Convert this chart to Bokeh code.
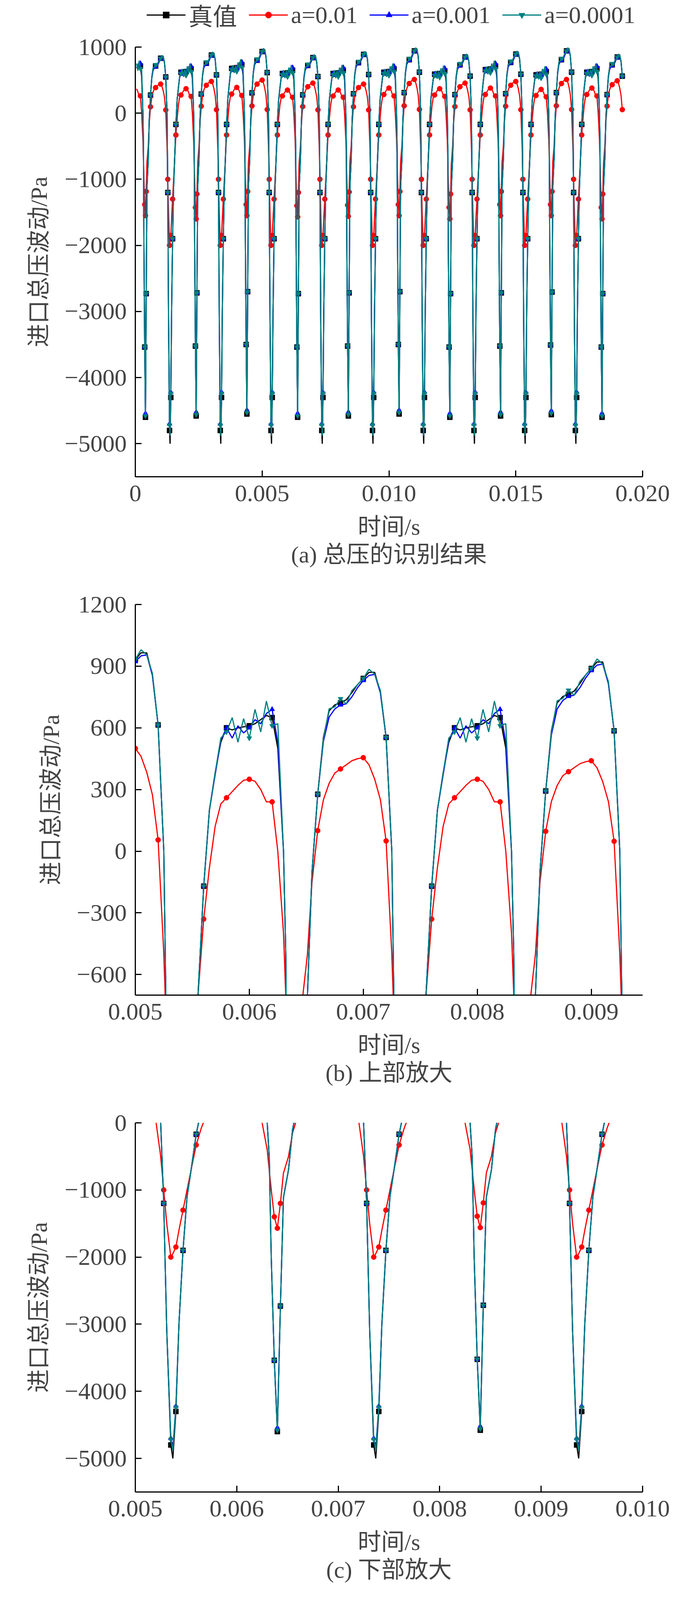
import numpy as np
from bokeh.plotting import figure
from bokeh.models import Legend, LegendItem, FixedTicker, Title, Range1d
from bokeh.layouts import column
from bokeh.embed import file_html
from bokeh.resources import INLINE

tmpl_t = [0.00500, 0.00505, 0.00510, 0.00515, 0.00520, 0.00525, 0.00528, 0.00531, 0.00535, 0.00537,
          0.00540, 0.00543, 0.00547, 0.00551, 0.00555, 0.00560, 0.00565, 0.00570, 0.00575, 0.00580,
          0.00585, 0.00590, 0.00595, 0.00600, 0.00605, 0.00610, 0.00615, 0.00620, 0.00625, 0.00630,
          0.00632, 0.00634, 0.00637, 0.00640, 0.00643, 0.00646, 0.00651, 0.00655, 0.00660, 0.00665,
          0.00670, 0.00675, 0.00680, 0.00685, 0.00690, 0.00695]
tmpl_true = [850, 880, 880, 780, 560, 0, -1200, -3100, -4800, -5000,
             -4300, -3000, -1900, -1100, -700, -170, 200, 380, 530, 600,
             590, 600, 605, 610, 620, 640, 660, 650, 500, 0,
             -500, -2000, -3500, -4550, -2700, -1100, -700, -100, 280, 560,
             690, 720, 730, 745, 780, 820]
tmpl_red = [455, 420, 350, 250, 50, -500, -1000, -1500, -2000, -1950,
            -1850, -1600, -1300, -1000, -700, -330, -80, 120, 230, 260,
            290, 320, 345, 350, 340, 300, 240, 240, 0, -400,
            -700, -1000, -1400, -1570, -1200, -750, -500, -150, 100, 250,
            330, 380, 400, 420, 440, 450]
tmpl_dblue = [-10, -15, -10, 0, 0, 0, 0, 0, 100, 150,
              80, 0, 0, 0, 0, 0, 0, -10, 10, 0,
              -40, 10, -30, -10, 20, -20, 10, 40, 30, 0,
              0, 0, 0, 60, 0, 0, 0, 0, 0, -20,
              -30, -20, -10, -20, -20, -15]
tmpl_dteal = [0, 15, -10, 10, 0, 0, 0, 0, 80, 120,
              60, 0, 0, 0, 0, 0, 0, 0, 20, -20,
              60, -70, 40, -60, 70, -60, 70, -40, 120, 0,
              0, 0, 0, 20, 0, 0, 0, 0, 0, -10,
              10, -10, 20, -20, 10, 0]

# ---- per double-cycle levels ----
cyc_high = [700, 860, 910, 965, 870, 920, 975, 880, 925, 975, 880]
cyc_low = [680, 640, 700, 620, 620, 640, 610, 680, 600, 640, 640]
cyc_deep = [-5000, -5000, -5000, -5000, -5000, -5000, -5000, -5000, -5000, -5000, -5000]
cyc_shallow = [-4600, -4580, -4550, -4600, -4580, -4550, -4600, -4580, -4560, -4600, -4600]
red_high = [450, 440, 480, 500, 455, 440, 510, 455, 480, 510, 490]
red_low = [380, 370, 390, 350, 350, 380, 370, 380, 360, 380, 380]
red_deep = [-2000, -2000, -2000, -2000, -2000, -2000, -2000, -2000, -2000, -2000, -2000]
red_shallow = [-1550, -1600, -1550, -1570, -1560, -1550, -1600, -1550, -1550, -1600, -1600]

series_names = ["真值", "a=0.01", "a=0.001", "a=0.0001"]
t_end = 0.0192

def build():
    T, Y, R, B, C, M = [], [], [], [], [], []
    for k in range(len(cyc_high)):
        s = -0.001 + 0.002 * k
        for i, tt in enumerate(tmpl_t):
            off = tt - 0.005
            t = s + off
            v, r = tmpl_true[i], tmpl_red[i]
            kh = k + 1 if off > 0.0015 and k + 1 < len(cyc_high) else k
            if off < 0.00025 or off > 0.0015:
                yv = v * cyc_high[kh] / 880 if v > 0 else v
                rv = r * red_high[kh] / 455 if r > 0 else r
            elif off < 0.00056:
                yv = v * cyc_deep[k] / -5000 if v < 0 else v
                rv = r * red_deep[k] / -2000 if r < 0 else r
            elif off < 0.00128:
                yv = v * cyc_low[k] / 620 if v > 0 else v
                rv = r * red_low[k] / 350 if r > 0 else r
            else:
                yv = v * cyc_shallow[k] / -4550 if v < 0 else v
                rv = r * red_shallow[k] / -1570 if r < 0 else r
            if t < 0.00002 or t > t_end:
                continue
            T.append(t); Y.append(yv); R.append(rv)
            B.append(yv + tmpl_dblue[i]); C.append(yv + tmpl_dteal[i])
            mk = (abs(round(off / 0.0002) * 0.0002 - off) < 1e-9) or (v < -1000 and i % 2 == 0)
            M.append(mk)
    return [np.array(a) for a in (T, Y, R, B, C, M)]

T, Y, R, B, C, M = build()

SERIF = "'Liberation Serif', 'Noto Sans CJK SC'"
FS = "62px"
STY = [("black", "square"), ("#ff0000", "circle"), ("#0000ff", "triangle"), ("#008080", "inverted_triangle")]

def make(xr, yr, xticks, xlabels, yticks, caption, mborder_top, fh, mborder_bottom):
    p = figure(output_backend="svg", toolbar_location=None, x_range=xr, y_range=yr,
               frame_width=1299, frame_height=fh, min_border_left=346, min_border_right=100,
               min_border_top=mborder_top, min_border_bottom=mborder_bottom)
    p.outline_line_color = None
    p.grid.visible = False
    p.background_fill_color = None
    for ys, (col, mark) in zip([Y, R, B, C], STY):
        p.line(T, ys, line_color=col, line_width=3)
        p.scatter(T[M], ys[M], marker=mark, size=13, fill_color=col, line_color=col)
    for ax, ticks, labels in [(p.xaxis[0], xticks, xlabels), (p.yaxis[0], yticks, None)]:
        ax.ticker = FixedTicker(ticks=ticks)
        ax.minor_tick_line_color = None
        ax.major_tick_in = 16
        ax.major_tick_out = 0
        ax.axis_line_width = 3
        ax.major_tick_line_width = 3
        ax.major_label_text_font = SERIF
        ax.major_label_text_font_size = FS
        ax.axis_label_text_font = SERIF
        ax.axis_label_text_font_size = "60px"
        ax.axis_label_text_font_style = "normal"
        if labels is None:
            labels = [str(v).replace("-", "\u2212") for v in ticks]
        ax.major_label_overrides = {v: s for v, s in zip(ticks, labels)}
    p.xaxis.axis_label = "时间/s"
    p.yaxis.axis_label = "进口总压波动/Pa"
    p.xaxis.major_label_standoff = 22
    p.yaxis.major_label_standoff = 22
    p.xaxis.axis_label_standoff = 30
    p.yaxis.axis_label_standoff = 30
    p.add_layout(Title(text=caption, align="center", text_font=SERIF, text_font_size="60px",
                       text_font_style="normal", standoff=0), "below")
    return p

# legend strip
pl = figure(output_backend="svg", toolbar_location=None, width=1756, height=76,
            x_range=Range1d(0, 1), y_range=Range1d(0, 1), min_border=0)
pl.axis.visible = False
pl.grid.visible = False
pl.outline_line_color = None
items = []
for name, (col, mark) in zip(series_names, STY):
    l = pl.line([5, 6], [5, 6], line_color=col, line_width=3)
    sc = pl.scatter([5], [5], marker=mark, size=13, fill_color=col, line_color=col)
    items.append(LegendItem(label=name, renderers=[l, sc]))
lg = Legend(items=items, orientation="horizontal", location="center",
            label_text_font=SERIF, label_text_font_size="62px",
            glyph_width=100, glyph_height=40, label_standoff=8, spacing=30,
            border_line_color=None, background_fill_alpha=0, padding=0, margin=0)
pl.add_layout(lg, "center")

pa = make((0, 0.020), (-5500, 1000), [0, 0.005, 0.010, 0.015, 0.020],
          ["0", "0.005", "0.010", "0.015", "0.020"],
          [-5000, -4000, -3000, -2000, -1000, 0, 1000], "(a) 总压的识别结果", 44, 1100, 285)
pb = make((0.005, 0.00945), (-700, 1200), [0.005, 0.006, 0.007, 0.008, 0.009],
          ["0.005", "0.006", "0.007", "0.008", "0.009"],
          [-600, -300, 0, 300, 600, 900, 1200], "(b) 上部放大", 42, 1000, 285)
pc = make((0.005, 0.010), (-5500, 0), [0.005, 0.006, 0.007, 0.008, 0.009, 0.010],
          ["0.005", "0.006", "0.007", "0.008", "0.009", "0.010"],
          [-5000, -4000, -3000, -2000, -1000, 0], "(c) 下部放大", 42, 945, 300)

lay = column(pl, pa, pb, pc, spacing=0)
open("out.html", "w").write(file_html(lay, INLINE))
